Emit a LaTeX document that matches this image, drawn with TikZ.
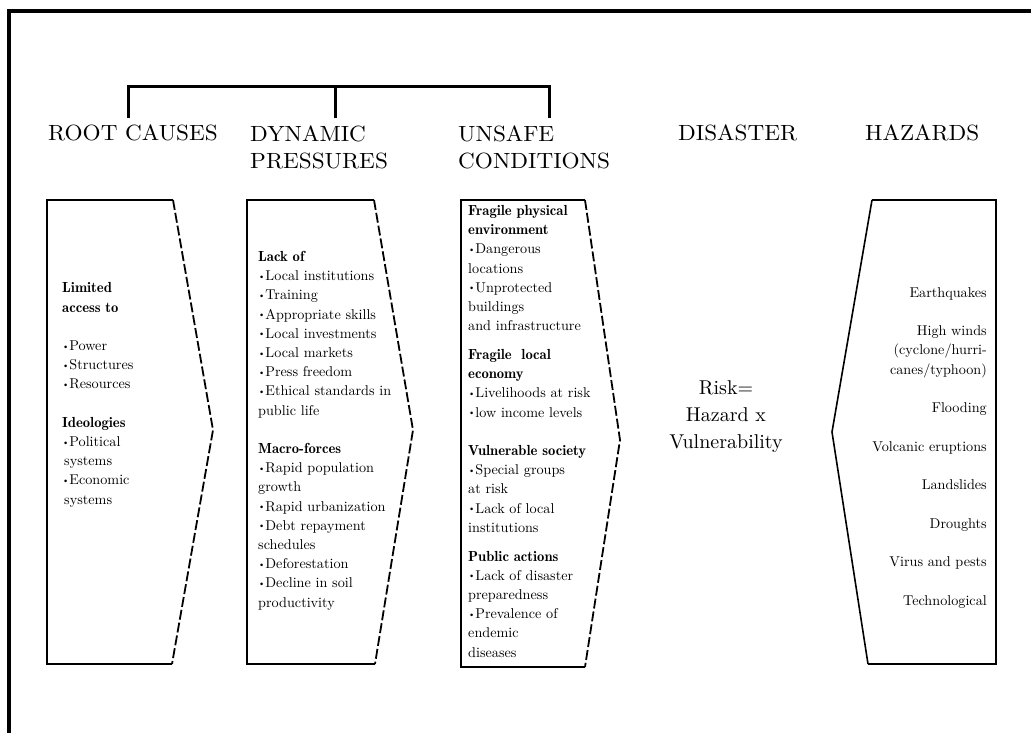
\documentclass[tikz,border=0pt]{standalone}
\usepackage{fontspec}
\newfontfamily\headfont{lmroman10-regular.otf}[FakeStretch=1.055]
\newfontfamily\riskfont{lmroman10-regular.otf}
\newfontfamily\bodyfont{lmroman10-regular.otf}
\newcommand\bul{\raisebox{1.3pt}{\scalebox{0.65}{\textbullet}}}
\newcommand\hd[1]{{\fontfamily{lmr}\fontseries{b}\fontshape{n}\fontsize{14.6}{19.2}\selectfont #1}}
\begin{document}
\begin{tikzpicture}[x=1pt,y=-1pt,
  frame/.style={line width=3.5pt},
  bracket/.style={line width=3pt},
  boxedge/.style={line width=1.8pt},
  boxcut/.style={line width=1.8pt, dash pattern=on 10pt off 3pt},
  hazedge/.style={line width=1.6pt},
  heading/.style={anchor=base west, inner sep=0pt, align=left, font=\headfont\fontsize{22}{27}\selectfont},
  body/.style={anchor=base west, inner sep=0pt, align=left, font=\bodyfont\fontsize{14.2}{19.2}\selectfont},
  bodyr/.style={anchor=base east, inner sep=0pt, align=right, font=\bodyfont\fontsize{14.2}{19.25}\selectfont},
  risk/.style={anchor=base, inner sep=0pt, align=center, font=\riskfont\fontsize{20}{27}\selectfont}]
\useasboundingbox (0,0) rectangle (1031,733);
% outer frame
\coordinate (fTR) at (1035,11);
\coordinate (fTL) at (9,11);
\coordinate (fBL) at (9,740);
\draw[frame] (fTR) -- (fTL) -- (fBL);
% bracket
\coordinate (brL) at (128,118);
\coordinate (brM) at (335,118);
\coordinate (brR) at (549,118);
\draw[bracket] (brL) -- ++(0,-31) -| (brR);
\draw[bracket] (brM) -- ++(0,-31);
% headings (anchor = baseline of last line)
\node[heading] (hroot) at (48,141) {ROOT CAUSES};
\node[heading] (hdyn) at (250,168) {DYNAMIC\\PRESSURES};
\node[heading] (hunsafe) at (458,168) {UNSAFE\\CONDITIONS};
\node[heading] (hdis) at (678,141) {DISASTER};
\node[heading] (hhaz) at (865,141) {HAZARDS};
% box 1
\coordinate (b1tr) at (173,200);
\coordinate (b1tl) at (47,200);
\coordinate (b1bl) at (47,664);
\coordinate (b1br) at (172,664);
\coordinate (b1tip) at (213,430);
\draw[boxedge] (b1tr) -- (b1tl) -- (b1bl) -- (b1br);
\draw[boxcut] (b1tr) -- (b1tip) -- (b1br);
% box 2
\coordinate (b2tr) at (374,200);
\coordinate (b2tl) at (247,200);
\coordinate (b2bl) at (247,664);
\coordinate (b2br) at (375,664);
\coordinate (b2tip) at (413,430);
\draw[boxedge] (b2tr) -- (b2tl) -- (b2bl) -- (b2br);
\draw[boxcut] (b2tr) -- (b2tip) -- (b2br);
% box 3
\coordinate (b3tr) at (585,200);
\coordinate (b3tl) at (461,200);
\coordinate (b3bl) at (461,667);
\coordinate (b3br) at (585,667);
\coordinate (b3tip) at (620,440);
\draw[boxedge] (b3tr) -- (b3tl) -- (b3bl) -- (b3br);
\draw[boxcut] (b3tr) -- (b3tip) -- (b3br);
% box 4
\coordinate (b4tl) at (872,200);
\coordinate (b4tr) at (996,200);
\coordinate (b4br) at (996,664);
\coordinate (b4bl) at (868,664);
\coordinate (b4tip) at (832,432);
\draw[boxedge] (b4tl) -- (b4tr) -- (b4br) -- (b4bl);
\draw[hazedge] (b4tl) -- (b4tip) -- (b4bl);
% box texts (anchor = baseline of last line)
\node[body] (t1) at (62,504) {\hd{Limited}\\\hd{access to}\\[19.2pt]
  \bul Power\\\bul Structures\\\bul Resources\\[19.2pt]
  \hd{Ideologies}\\\bul Political\\\hspace*{2pt}systems\\\bul Economic\\\hspace*{2pt}systems};
\node[body] (t2) at (258,607) {\hd{Lack of}\\\bul Local institutions\\\bul Training\\\bul Appropriate skills\\
  \bul Local investments\\\bul Local markets\\\bul Press freedom\\\bul Ethical standards in\\public life\\[19.2pt]
  \hd{Macro-forces}\\\bul Rapid population\\growth\\\bul Rapid urbanization\\\bul Debt repayment\\schedules\\
  \bul Deforestation\\\bul Decline in soil\\productivity};
\node[body] (t3) at (468,657) {\hd{Fragile physical}\\\hd{environment}\\\bul Dangerous\\locations\\\bul Unprotected\\buildings\\and infrastructure\\[9.6pt]
  \hd{Fragile\ \ local}\\\hd{economy}\\\bul Livelihoods at risk\\\bul low income levels\\[19.2pt]
  \hd{Vulnerable society}\\\bul Special groups\\at risk\\\bul Lack of local\\institutions\\[9.6pt]
  \hd{Public actions}\\\bul Lack of disaster\\preparedness\\\bul Prevalence of\\endemic\\diseases};
\node[bodyr] (t4) at (987,605) {Earthquakes\\[19.25pt]High winds\\(cyclone/hurri-\\canes/typhoon)\\[19.25pt]
  Flooding\\[19.25pt]Volcanic eruptions\\[19.25pt]Landslides\\[19.25pt]Droughts\\[19.25pt]
  Virus and pests\\[19.25pt]Technological};
\node[risk] (trisk) at (726,448) {Risk=\\Hazard x\\Vulnerability};
\end{tikzpicture}
\end{document}
